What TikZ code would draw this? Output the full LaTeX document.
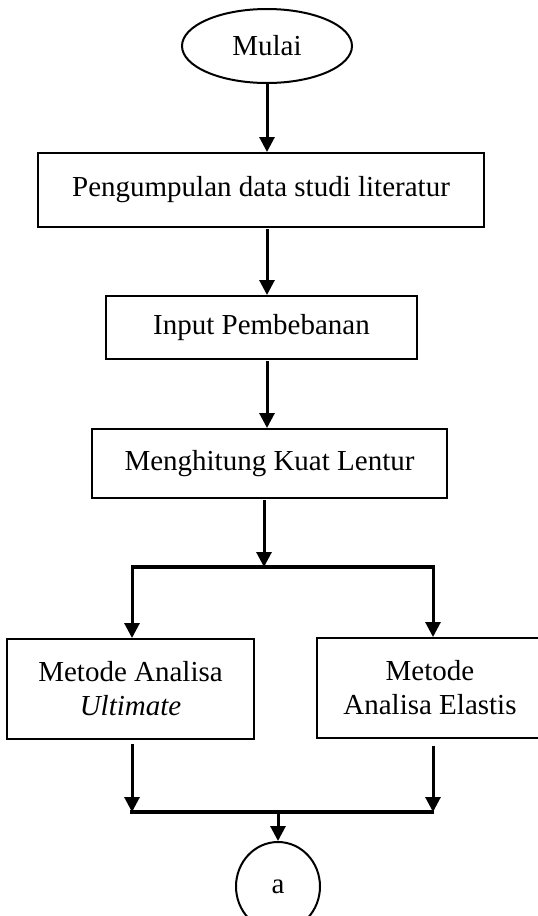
\documentclass[tikz,border=0pt]{standalone}
\usepackage{fontspec}
\setmainfont{Liberation Serif}
\usetikzlibrary{arrows.meta,shapes.geometric,calc}
\tikzset{
  boxnode/.style={draw=black, line width=2pt, rectangle, inner sep=0pt, font=\fontsize{29}{34}\selectfont, align=center},
  arr/.style={line width=3pt, -{Triangle[length=15pt,width=15pt]}},
  bar/.style={line width=4pt},
}
\begin{document}
\begin{tikzpicture}[x=1pt,y=-1pt]
\useasboundingbox (0,0) rectangle (538,916);
\fill[white] (0,0) rectangle (538,916);
% nodes
\node[ellipse, draw=black, line width=2pt, minimum width=170pt, minimum height=74pt, inner sep=0pt, font=\fontsize{29}{34}\selectfont] (mulai) at (267,46) {Mulai};
\node[boxnode, minimum width=446pt, minimum height=74pt] (b1) at (261,190) {Pengumpulan data studi literatur};
\node[boxnode, minimum width=311pt, minimum height=63pt] (b2) at (261.5,327.5) {Input Pembebanan};
\node[boxnode, minimum width=355pt, minimum height=69pt] (b3) at (269.5,463.5) {Menghitung Kuat Lentur};
\node[boxnode, minimum width=247pt, minimum height=100pt] (b4) at (130.5,689) {Metode Analisa\\\textit{Ultimate}};
\node[boxnode, minimum width=226pt, minimum height=100pt] (b5) at (430,688) {Metode\\Analisa Elastis};
\node[ellipse, draw=black, line width=2pt, minimum width=84pt, minimum height=89pt, inner sep=0pt, font=\fontsize{29}{34}\selectfont] (a) at (278,886.5) {a};
% helper coordinates
\coordinate (sp) at (264,567);
\coordinate (spl) at (132,567);
\coordinate (spr) at (433,567);
\coordinate (jn) at (278,812);
\coordinate (jnl) at (130,812);
\coordinate (jnr) at (434,812);
% connectors
\draw[arr] (mulai.south) -- (mulai.south |- b1.north);
\draw[arr] ($(mulai.south |- b1.south)+(0,1)$) -- (mulai.south |- b2.north);
\draw[arr] ($(mulai.south |- b2.south)+(0,1)$) -- (mulai.south |- b3.north);
\draw[arr] ($(sp |- b3.south)+(0,1)$) -- (sp);
\draw[bar] (spl) -- (spr);
\draw[arr] ($(spl)+(0,-2)$) -- (spl |- b4.north);
\draw[arr] ($(spr)+(0,-2)$) -- (spr |- b5.north);
\draw[arr] ($(b4.south -| spl)+(0,4)$) -- (spl |- jn);
\draw[arr] ($(b5.south -| spr)+(0,7)$) -- (spr |- jn);
\draw[bar] (jnl) -- (jnr);
\draw[arr] ($(a.north |- jn)+(0,1)$) -- (a.north);
\end{tikzpicture}
\end{document}
